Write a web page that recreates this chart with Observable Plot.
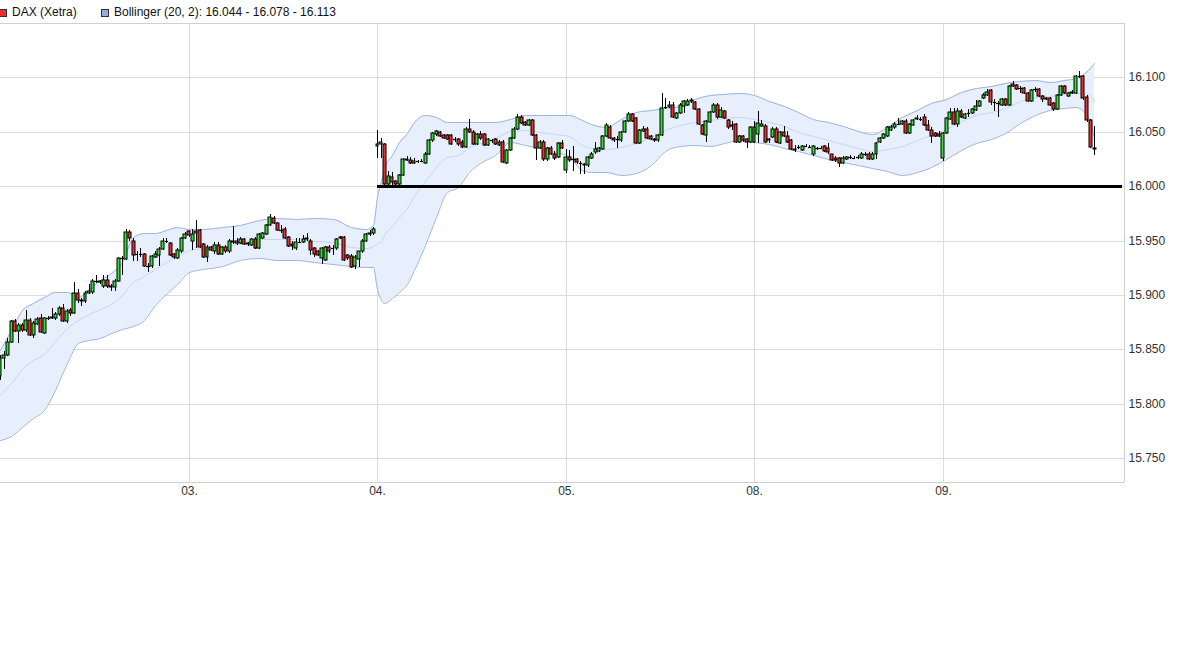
<!DOCTYPE html>
<html lang="de">
<head>
<meta charset="utf-8">
<title>DAX (Xetra)</title>
<script src="https://cdn.jsdelivr.net/npm/d3@7"></script>
<script src="https://cdn.jsdelivr.net/npm/@observablehq/plot@0.6"></script>
<style>
  html,body{margin:0;padding:0;background:#fff;}
  body{width:1200px;height:648px;overflow:hidden;font-family:"Liberation Sans",Arial,Helvetica,sans-serif;}
  #legend{position:relative;height:18px;font-size:12px;color:#111;white-space:nowrap;}
  #legend .sw{position:absolute;top:9px;width:6px;height:6px;border:1px solid #333;}
  #legend .lb{position:absolute;top:5px;line-height:14px;}
  #chart svg{display:block;}
</style>
</head>
<body>
<div id="legend"></div>
<div id="chart"></div>
<script>
// ---- day axis ----
const dayLabels = ["03.", "04.", "05.", "08.", "09."];
const dayStarts = [51, 102, 153, 204, 255];   // index of the first 10-min candle of each day
const yTicks = [15750, 15800, 15850, 15900, 15950, 16000, 16050, 16100];
const yDomain = [15728, 16150];
const xDomain = [0, 304.1];
const level = 16000, levelStart = 102, levelEnd = 303.6;

// ---- candles (10-minute, index 0 = first visible candle) ----
const opens = [
 15825,15842,15845,15857,15876,15867,15872,15868,15877,15863,15873,15879,15865,15879,15879,15879,15882,15888,15876,15886,15883,15902,15895,15894,15902,15903,15913,15913,15908,15914,15908,15907,15913,15934,15933,15958,15950,15938,15938,15938,15927,15927,15935,15937,15942,15950,15948,15938,15934,15940,15952,
 15959,15950,15957,15960,15947,15935,15944,15940,15946,15938,15944,15940,15950,15950,15948,15951,15947,15946,15951,15943,15952,15956,15964,15971,15966,15960,15961,15953,15947,15943,15949,15949,15951,15950,15943,15940,15934,15932,15944,15943,15943,15952,15953,15937,15936,15927,15933,15940,15950,15956,15957,
 16037,16039,16039,16002,16008,16005,16002,16010,16024,16024,16021,16023,16023,16021,16030,16042,16048,16050,16047,16047,16047,16043,16043,16041,16036,16053,16050,16039,16048,16048,16038,16042,16043,16038,16041,16021,16033,16044,16053,16064,16059,16056,16061,16047,16035,16041,16025,16035,16030,16027,16040,
 16015,16027,16025,16025,16021,16020,16019,16026,16031,16032,16034,16046,16054,16044,16043,16042,16050,16060,16066,16063,16040,16051,16053,16046,16043,16042,16047,16073,16073,16075,16063,16067,16074,16075,16078,16077,16071,16056,16047,16059,16068,16075,16064,16069,16061,16055,16057,16041,16046,16043,16041,
 16041,16048,16055,16055,16042,16045,16053,16040,16050,16046,16042,16034,16036,16033,16037,16036,16030,16035,16035,16037,16035,16030,16026,16026,16021,16025,16027,16026,16027,16026,16030,16030,16025,16030,16041,16044,16046,16052,16054,16057,16057,16060,16049,16056,16062,16062,16064,16056,16052,16049,16048,
 16026,16049,16062,16068,16057,16069,16063,16067,16067,16070,16074,16081,16084,16088,16077,16076,16075,16080,16075,16094,16093,16090,16090,16086,16078,16089,16089,16083,16080,16081,16076,16071,16084,16092,16083,16086,16086,16101,16101,16082,16061,16035
];
const highs = [
 15845,15848,15860,15877,15878,15874,15874,15886,15879,15876,15880,15882,15880,15881,15888,15884,15890,15892,15887,15888,15912,15905,15897,15904,15910,15915,15918,15914,15918,15918,15910,15915,15935,15936,15961,15960,15952,15940,15943,15939,15929,15937,15940,15944,15952,15952,15949,15939,15943,15953,15958,
 15960,15961,15969,15961,15948,15946,15945,15949,15949,15945,15946,15951,15963,15952,15953,15952,15949,15952,15953,15957,15958,15965,15974,15973,15967,15964,15962,15954,15950,15952,15952,15955,15957,15951,15944,15941,15944,15945,15946,15946,15952,15954,15954,15938,15938,15937,15940,15951,15957,15960,15962,
 16052,16044,16040,16014,16013,16006,16011,16026,16028,16027,16026,16024,16025,16031,16043,16050,16052,16051,16048,16048,16048,16045,16044,16042,16054,16062,16052,16049,16051,16049,16044,16043,16044,16042,16042,16034,16045,16054,16066,16065,16060,16062,16062,16048,16042,16042,16036,16037,16032,16041,16042,
 16034,16033,16037,16026,16023,16021,16028,16031,16041,16036,16047,16058,16056,16045,16046,16051,16061,16068,16067,16064,16053,16055,16054,16047,16044,16048,16086,16081,16078,16077,16068,16076,16079,16080,16081,16078,16072,16057,16061,16069,16076,16076,16073,16070,16062,16060,16058,16047,16047,16044,16055,
 16060,16069,16061,16057,16044,16054,16054,16051,16055,16051,16043,16038,16038,16038,16039,16038,16038,16036,16037,16038,16040,16030,16028,16027,16028,16028,16029,16028,16029,16031,16031,16031,16031,16041,16045,16049,16055,16056,16059,16063,16061,16062,16058,16062,16065,16064,16066,16061,16054,16050,16051,
 16050,16064,16072,16072,16072,16071,16067,16071,16072,16079,16079,16086,16089,16089,16080,16078,16081,16081,16093,16097,16094,16092,16091,16087,16089,16091,16090,16084,16082,16082,16077,16085,16093,16093,16087,16088,16102,16106,16102,16084,16062,16055
];
const lows = [
 15822,15832,15844,15856,15866,15856,15866,15866,15862,15860,15872,15865,15864,15877,15878,15877,15881,15875,15874,15881,15882,15893,15890,15893,15901,15901,15911,15910,15906,15906,15904,15904,15912,15918,15932,15950,15931,15931,15935,15926,15921,15925,15934,15927,15941,15948,15936,15933,15933,15939,15951,
 15953,15941,15943,15943,15934,15930,15940,15938,15937,15937,15939,15939,15947,15946,15947,15946,15945,15945,15942,15942,15951,15955,15963,15965,15959,15957,15951,15944,15941,15941,15948,15948,15950,15937,15935,15936,15928,15931,15939,15937,15941,15951,15931,15932,15925,15924,15926,15939,15949,15954,15955,
 16026,16026,16001,16001,16001,16001,16001,16009,16023,16020,16020,16021,16022,16020,16029,16041,16046,16045,16043,16042,16038,16041,16037,16035,16035,16049,16038,16038,16042,16037,16037,16040,16038,16037,16021,16020,16032,16043,16052,16057,16055,16055,16046,16024,16034,16023,16023,16029,16024,16026,16034,
 16012,16022,16014,16020,16011,16011,16018,16025,16030,16031,16033,16045,16043,16041,16035,16041,16049,16059,16059,16039,16039,16050,16043,16042,16041,16041,16046,16071,16072,16063,16062,16066,16067,16074,16076,16070,16056,16047,16041,16058,16067,16062,16063,16062,16053,16052,16040,16040,16041,16035,16040,
 16040,16040,16054,16040,16040,16044,16040,16039,16045,16040,16033,16031,16034,16032,16036,16035,16028,16033,16034,16031,16030,16023,16022,16018,16020,16024,16025,16025,16025,16025,16028,16024,16024,16025,16040,16043,16045,16051,16053,16056,16056,16048,16048,16055,16061,16060,16055,16051,16040,16045,16045,
 16023,16048,16061,16056,16054,16063,16062,16064,16066,16069,16073,16080,16083,16075,16069,16064,16074,16074,16074,16091,16088,16086,16085,16077,16077,16087,16082,16077,16079,16074,16069,16070,16083,16085,16082,16085,16085,16099,16079,16059,16035,16029
];
const closes = [
 15842,15845,15857,15876,15867,15872,15868,15877,15863,15874,15878,15866,15879,15879,15880,15882,15888,15876,15885,15883,15902,15895,15894,15902,15904,15913,15913,15912,15914,15908,15907,15913,15934,15934,15958,15952,15937,15938,15938,15927,15927,15936,15938,15942,15950,15950,15937,15935,15941,15952,15956,
 15955,15956,15959,15944,15935,15944,15941,15946,15938,15944,15940,15950,15949,15948,15951,15947,15948,15951,15943,15956,15957,15964,15972,15966,15960,15960,15952,15945,15945,15949,15949,15951,15952,15941,15938,15937,15943,15944,15940,15943,15951,15953,15932,15934,15926,15935,15940,15950,15956,15957,15961,
 16039,16041,16002,16009,16004,16002,16010,16025,16025,16021,16023,16023,16023,16030,16042,16049,16051,16046,16044,16043,16039,16043,16039,16036,16053,16050,16039,16048,16044,16038,16043,16042,16039,16041,16022,16033,16044,16053,16064,16058,16056,16061,16047,16035,16041,16025,16035,16030,16026,16040,16035,
 16027,16024,16025,16022,16021,16019,16027,16030,16034,16035,16046,16056,16044,16042,16043,16050,16060,16066,16060,16040,16052,16053,16044,16043,16042,16047,16072,16073,16075,16064,16067,16075,16078,16078,16079,16071,16057,16048,16060,16068,16075,16064,16070,16063,16054,16056,16041,16046,16042,16041,16054,
 16054,16058,16057,16041,16043,16053,16041,16050,16046,16041,16034,16033,16036,16037,16037,16036,16037,16035,16035,16032,16031,16024,16024,16021,16026,16027,16027,16026,16027,16030,16030,16025,16030,16040,16044,16048,16054,16054,16057,16057,16060,16049,16057,16061,16063,16062,16056,16052,16046,16046,16046,
 16049,16063,16068,16057,16069,16064,16066,16067,16071,16074,16078,16084,16087,16077,16077,16076,16080,16075,16092,16092,16089,16090,16086,16078,16088,16089,16083,16080,16081,16075,16071,16084,16092,16086,16086,16087,16101,16101,16081,16061,16036,16034
];

// ---- Bollinger (20, 2) at sample candles ----
const bandIdx = [0,3,6,9,12,15,18,21,24,27,30,33,36,39,42,45,48,51,55,60,65,70,75,80,85,90,95,99,101,102,103,104,106,108,110,112,115,118,121,124,127,130,134,138,142,146,150,154,157,160,164,168,172,176,180,184,188,192,196,200,204,208,212,216,220,224,228,232,236,240,244,248,252,256,260,264,268,272,276,280,284,288,291,293,295,296];
const bandUpper = [15849,15868,15886,15893,15898,15903,15903,15898,15905,15914,15920,15930,15953,15957,15957,15960,15962,15961,15961,15962,15964,15969,15971,15970,15971,15970,15962,15961,15964,15990,16005,16017,16029,16041,16049,16059,16065,16064,16059,16059,16059,16059,16059,16062,16065,16065,16065,16065,16062,16057,16054,16062,16068,16070,16072,16074,16080,16084,16085,16086,16084,16078,16074,16068,16062,16059,16055,16051,16048,16054,16064,16070,16076,16080,16087,16090,16092,16095,16097,16098,16096,16098,16099,16103,16109,16113];
const bandMid = [15808,15819,15832,15840,15846,15858,15870,15877,15882,15887,15892,15900,15912,15917,15924,15930,15936,15941,15943,15944,15948,15951,15951,15951,15950,15949,15944,15943,15945,15948,15950,15955,15963,15972,15980,15991,16005,16018,16027,16029,16036,16040,16044,16051,16052,16050,16048,16046,16039,16035,16034,16036,16040,16045,16052,16056,16059,16061,16063,16064,16062,16059,16055,16050,16046,16042,16039,16035,16032,16034,16037,16042,16047,16053,16060,16065,16068,16072,16078,16082,16083,16085,16086,16086,16084,16078];
const bandLower = [15767,15770,15779,15787,15794,15813,15837,15856,15859,15860,15865,15869,15871,15877,15891,15901,15910,15921,15924,15927,15932,15934,15932,15932,15930,15928,15927,15926,15926,15905,15895,15893,15897,15903,15910,15923,15946,15972,15995,15999,16013,16021,16029,16041,16038,16035,16031,16028,16016,16013,16013,16010,16012,16019,16032,16037,16038,16037,16040,16042,16041,16039,16035,16032,16029,16025,16022,16019,16017,16014,16010,16013,16018,16025,16033,16040,16043,16049,16058,16065,16070,16072,16073,16069,16059,16044];

// ---- colours ----
const green = "#33dd33", red = "#ec3030";
const bandFill = "#e8effc", bandEdge = "#9db3e2", bandMidColor = "#c3d5f6";

const candles = closes.map((c, i) => ({i, o: opens[i], h: highs[i], l: lows[i], c}));
const bodies = candles.filter(d => d.o !== d.c);
const dojis = candles.filter(d => d.o === d.c);
const bands = bandIdx.map((i, k) => ({i, u: bandUpper[k], m: bandMid[k], l: bandLower[k]}));

// legend
const fmt = v => (v / 1000).toFixed(3);
const last = bands.length - 1;
document.getElementById("legend").innerHTML =
  `<span class="sw" style="left:-1px;background:${red}"></span>` +
  `<span class="lb" style="left:12px">DAX (Xetra)</span>` +
  `<span class="sw" style="left:101px;background:#97ade0"></span>` +
  `<span class="lb" style="left:114px">Bollinger (20, 2): ${fmt(bandLower[last])} - ${fmt(bandMid[last])} - ${fmt(bandUpper[last])}</span>`;

const chart = Plot.plot({
  width: 1200,
  height: 630,
  marginLeft: 0,
  marginRight: 76,
  marginTop: 5,
  marginBottom: 166,
  x: {domain: xDomain, axis: null, label: null, round: true},
  y: {domain: yDomain, axis: null, label: null, round: true},
  style: {fontFamily: "'Liberation Sans', Arial, sans-serif", fontSize: "12px", color: "#333", background: "#fff", overflow: "visible"},
  marks: [
    Plot.ruleY(yTicks, {stroke: "#dcdcdc"}),
    Plot.ruleX(dayStarts, {stroke: "#dcdcdc"}),
    Plot.ruleY([yDomain[1]], {stroke: "#d0d0d0"}),
    Plot.ruleY([yDomain[0]], {stroke: "#d0d0d0"}),
    Plot.ruleX([xDomain[1]], {stroke: "#d0d0d0"}),
    Plot.areaY(bands, {x: "i", y1: "l", y2: "u", fill: bandFill, curve: "monotone-x"}),
    Plot.line(bands, {x: "i", y: "m", stroke: bandMidColor, strokeWidth: 1, curve: "monotone-x"}),
    Plot.line(bands, {x: "i", y: "u", stroke: bandEdge, strokeWidth: 1, curve: "monotone-x"}),
    Plot.line(bands, {x: "i", y: "l", stroke: bandEdge, strokeWidth: 1, curve: "monotone-x"}),
    Plot.ruleY([level], {x1: levelStart, x2: levelEnd, stroke: "#000", strokeWidth: 3}),
    Plot.ruleX(candles, {x: "i", y1: "l", y2: "h", stroke: "#000", strokeWidth: 1}),
    Plot.rect(bodies, {
      x1: d => d.i - 0.4, x2: d => d.i + 0.4,
      y1: "o", y2: "c",
      fill: d => d.c > d.o ? green : red,
      stroke: "#000", strokeWidth: 1
    }),
    Plot.ruleY(dojis, {y: "c", x1: d => d.i - 0.45, x2: d => d.i + 0.45, stroke: "#000", strokeWidth: 1.2}),
    Plot.axisY(yTicks, {anchor: "right", label: null, tickSize: 0, tickPadding: 4, tickFormat: fmt, fill: "#333"}),
    Plot.axisX(dayStarts, {anchor: "bottom", label: null, tickSize: 0, tickPadding: 4, tickFormat: d => dayLabels[dayStarts.indexOf(d)], fill: "#333"})
  ]
});
document.getElementById("chart").append(chart);
</script>
</body>
</html>
